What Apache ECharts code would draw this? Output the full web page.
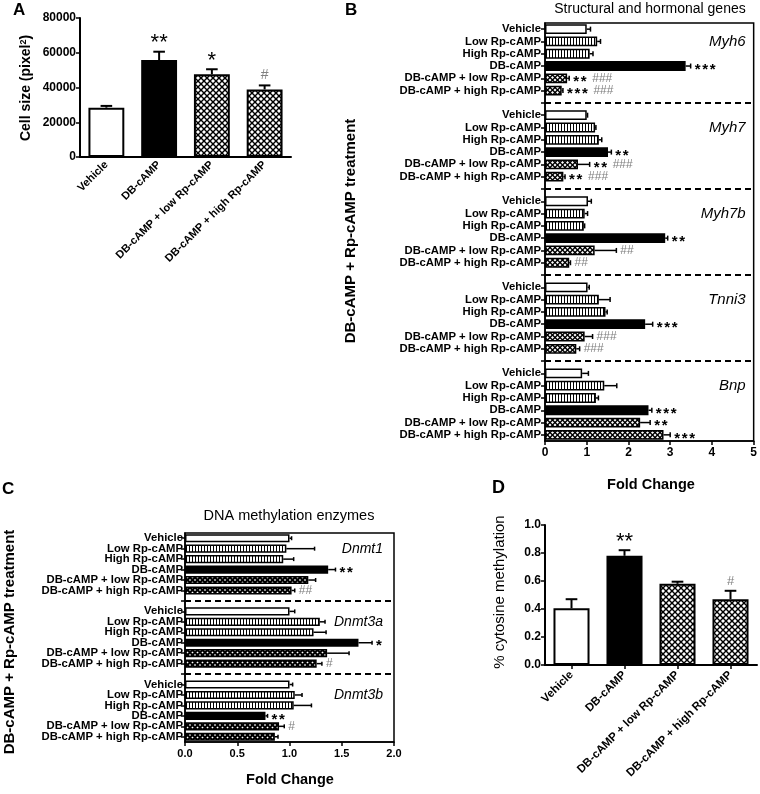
<!DOCTYPE html>
<html><head><meta charset="utf-8">
<script src="https://cdn.jsdelivr.net/npm/echarts@6/dist/echarts.min.js"></script>
<style>html,body{margin:0;padding:0;background:#fff}#c{width:760px;height:794px}</style>
</head><body><div id="c"></div>
<script>
// ---------- DATA ----------
// Panel A: cell size
const aCategories = ['Vehicle', 'DB-cAMP', 'DB-cAMP + low Rp-cAMP', 'DB-cAMP + high Rp-cAMP'];
const aValues = [28400, 55800, 47600, 38900];
const aErrTop = [29400, 60600, 50500, 41200];
const aStars = ['', '**', '*', ''];
const aHashes = ['', '', '', '#'];
const aTicks = [0, 20000, 40000, 60000, 80000];

// Panel B: structural and hormonal genes
const bTreatments = ['Vehicle', 'Low Rp-cAMP', 'High Rp-cAMP', 'DB-cAMP', 'DB-cAMP + low Rp-cAMP', 'DB-cAMP + high Rp-cAMP'];
const bGenes = ['Myh6', 'Myh7', 'Myh7b', 'Tnni3', 'Bnp'];
const bMyh6 = [1.00, 1.25, 1.07, 3.37, 0.53, 0.40];
const bMyh6Err = [1.09, 1.33, 1.15, 3.49, 0.58, 0.43];
const bMyh7 = [1.00, 1.20, 1.29, 1.51, 0.79, 0.44];
const bMyh7Err = [1.02, 1.22, 1.36, 1.59, 1.07, 0.48];
const bMyh7b = [1.03, 0.95, 0.93, 2.88, 1.19, 0.58];
const bMyh7bErr = [1.11, 1.02, 0.95, 2.94, 1.71, 0.61];
const bTnni3 = [1.02, 1.29, 1.45, 2.40, 0.95, 0.75];
const bTnni3Err = [1.06, 1.56, 1.49, 2.58, 1.14, 0.83];
const bBnp = [0.89, 1.42, 1.22, 2.48, 2.28, 2.84];
const bBnpErr = [1.04, 1.72, 1.28, 2.56, 2.52, 3.00];
const bStars = [
  ['', '', '', '***', '**', '***'],
  ['', '', '', '**', '**', '**'],
  ['', '', '', '**', '', ''],
  ['', '', '', '***', '', ''],
  ['', '', '', '***', '**', '***']
];
const bHashes = [
  ['', '', '', '', '###', '###'],
  ['', '', '', '', '###', '###'],
  ['', '', '', '', '##', '##'],
  ['', '', '', '', '###', '###'],
  ['', '', '', '', '', '']
];
const bTicks = [0, 1, 2, 3, 4, 5];

// Panel C: DNA methylation enzymes
const cGenes = ['Dnmt1', 'Dnmt3a', 'Dnmt3b'];
const cDnmt1 = [1.00, 0.97, 0.94, 1.37, 1.18, 1.02];
const cDnmt1Err = [1.02, 1.24, 1.04, 1.44, 1.25, 1.05];
const cDnmt3a = [1.00, 1.29, 1.23, 1.66, 1.36, 1.26];
const cDnmt3aErr = [1.05, 1.34, 1.35, 1.79, 1.57, 1.31];
const cDnmt3b = [1.00, 1.05, 1.04, 0.77, 0.90, 0.86];
const cDnmt3bErr = [1.03, 1.12, 1.21, 0.79, 0.95, 0.89];
const cStars = [
  ['', '', '', '**', '', ''],
  ['', '', '', '*', '', ''],
  ['', '', '', '**', '', '']
];
const cHashes = [
  ['', '', '', '', '', '##'],
  ['', '', '', '', '', '#'],
  ['', '', '', '', '#', '']
];
const cTicks = [0, 0.5, 1.0, 1.5, 2.0];

// Panel D: % cytosine methylation
const dCategories = ['Vehicle', 'DB-cAMP', 'DB-cAMP + low Rp-cAMP', 'DB-cAMP + high Rp-cAMP'];
const dValues = [0.405, 0.78, 0.58, 0.47];
const dErrTop = [0.47, 0.82, 0.595, 0.53];
const dStars = ['', '**', '', ''];
const dHashes = ['', '', '', '#'];
const dTicks = [0, 0.2, 0.4, 0.6, 0.8, 1.0];

// ---------- HELPERS ----------
const FONT = '"Liberation Sans", Arial, sans-serif';
const GRAY = '#808080';

function makePattern(size, draw) {
  const c = document.createElement('canvas');
  c.width = size; c.height = size;
  const ctx = c.getContext('2d');
  draw(ctx, size);
  return { image: c, repeat: 'repeat' };
}
const stripe = makePattern(3, (ctx, s) => {
  ctx.fillStyle = '#fff'; ctx.fillRect(0, 0, s, s);
  ctx.fillStyle = '#000'; ctx.fillRect(0, 0, 1, s);
});
function diamond(s, r) {
  return makePattern(s, (ctx) => {
    ctx.fillStyle = '#000'; ctx.fillRect(0, 0, s, s);
    ctx.fillStyle = '#fff';
    [[s / 2, s / 2], [0, 0], [s, 0], [0, s], [s, s]].forEach(([x, y]) => {
      ctx.beginPath(); ctx.moveTo(x, y - r); ctx.lineTo(x + r, y); ctx.lineTo(x, y + r); ctx.lineTo(x - r, y); ctx.closePath(); ctx.fill();
    });
  });
}
const checkAD = diamond(6, 2);
const checkB = diamond(5, 1.5);
const checkC = diamond(5, 1.1);
const fillAD = ['#fff', '#000', checkAD, checkAD];
const fillB = ['#fff', stripe, stripe, '#000', checkB, checkB];
const fillC = ['#fff', stripe, stripe, '#000', checkC, checkC];

function buildSlots(genes, vals, errs, stars, hashes) {
  const slots = [];
  genes.forEach((g, gi) => {
    if (gi > 0) slots.push({ gap: true, label: '' });
    bTreatments.forEach((t, ti) => {
      slots.push({ label: t, ti, gi, v: vals[gi][ti], e: errs[gi][ti], s: stars[gi][ti], h: hashes[gi][ti] });
    });
  });
  return slots;
}
const bSlots = buildSlots(bGenes, [bMyh6, bMyh7, bMyh7b, bTnni3, bBnp],
  [bMyh6Err, bMyh7Err, bMyh7bErr, bTnni3Err, bBnpErr], bStars, bHashes);
const cSlots = buildSlots(cGenes, [cDnmt1, cDnmt3a, cDnmt3b],
  [cDnmt1Err, cDnmt3aErr, cDnmt3bErr], cStars, cHashes);

// ---------- SERIES BUILDERS ----------
function hBarSeries(slots, idx, fills, bw) {
  return {
    type: 'bar', xAxisIndex: idx, yAxisIndex: idx, barWidth: bw, z: 2,
    data: slots.map(s => s.gap ? '-' : { value: s.v, itemStyle: { color: fills[s.ti], borderColor: '#000', borderWidth: 1.5 } }),
    silent: true
  };
}
function hErrSeries(slots, idx, capH, lw) {
  return {
    type: 'custom', xAxisIndex: idx, yAxisIndex: idx, z: 3, silent: true,
    encode: { x: 0, y: 1 },
    data: slots.map((s, i) => s.gap ? null : [s.e, i, s.v]).filter(Boolean),
    renderItem: (params, api) => {
      const i = api.value(1);
      const p0 = api.coord([api.value(2), i]);
      const p1 = api.coord([api.value(0), i]);
      return { type: 'group', children: [
        { type: 'line', shape: { x1: p0[0], y1: p0[1], x2: p1[0], y2: p1[1] }, style: { stroke: '#000', lineWidth: lw } },
        { type: 'line', shape: { x1: p1[0], y1: p1[1] - capH / 2, x2: p1[0], y2: p1[1] + capH / 2 }, style: { stroke: '#000', lineWidth: lw } }
      ] };
    }
  };
}
function hMarkSeries(slots, idx, starSize, pitch, hashSize) {
  return {
    type: 'custom', xAxisIndex: idx, yAxisIndex: idx, z: 4, silent: true,
    encode: { x: 0, y: 1 },
    data: slots.map((s, i) => (s.gap || (!s.s && !s.h)) ? null : [s.e, i]).filter(Boolean),
    renderItem: (params, api) => {
      const i = api.value(1);
      const slot = slots[i];
      const p = api.coord([api.value(0), i]);
      const children = [];
      let x = p[0] + 4;
      for (let k = 0; k < slot.s.length; k++) {
        children.push({ type: 'text', x: x, y: p[1] + starSize * 0.24, style: {
          text: slot.s[k], fill: '#000', font: 'bold ' + starSize + 'px ' + FONT, textAlign: 'left', textVerticalAlign: 'middle', align: 'left', verticalAlign: 'middle' } });
        x += pitch;
      }
      if (slot.s) x += 4;
      if (slot.h) {
        children.push({ type: 'text', x: x, y: p[1], style: {
          text: slot.h, fill: GRAY, font: hashSize + 'px ' + FONT, textAlign: 'left', textVerticalAlign: 'middle', align: 'left', verticalAlign: 'middle' } });
      }
      return { type: 'group', children };
    }
  };
}
function dashSeries(slots, idx) {
  return {
    type: 'custom', xAxisIndex: idx, yAxisIndex: idx, z: 1, silent: true,
    encode: { x: 0, y: 1 },
    data: slots.map((s, i) => s.gap ? [0, i] : null).filter(Boolean),
    renderItem: (params, api) => {
      const y = api.coord([0, api.value(1)])[1];
      const cs = params.coordSys;
      return { type: 'line', shape: { x1: cs.x, y1: y, x2: cs.x + cs.width, y2: y },
        style: { stroke: '#000', lineWidth: 2, lineDash: [6, 4] } };
    }
  };
}
function geneSeries(slots, genes, idx, size, inset) {
  return {
    type: 'custom', xAxisIndex: idx, yAxisIndex: idx, z: 4, silent: true,
    encode: { x: 0, y: 1 },
    data: slots.map((s, i) => (!s.gap && s.ti === 1) ? [0, i, s.gi] : null).filter(Boolean),
    renderItem: (params, api) => {
      const y = api.coord([0, api.value(1)])[1];
      const cs = params.coordSys;
      return { type: 'text', x: cs.x + cs.width - inset, y: y, style: {
        text: genes[api.value(2)], fill: '#000', font: 'italic ' + size + 'px ' + FONT,
        textAlign: 'right', textVerticalAlign: 'middle', align: 'right', verticalAlign: 'middle' } };
    }
  };
}
function vBarSeries(values, idx) {
  return {
    type: 'bar', xAxisIndex: idx, yAxisIndex: idx, barWidth: '68%', z: 2, silent: true,
    data: values.map((v, i) => ({ value: v, itemStyle: { color: fillAD[i], borderColor: '#000', borderWidth: 2 } }))
  };
}
function vErrSeries(values, errs, idx) {
  return {
    type: 'custom', xAxisIndex: idx, yAxisIndex: idx, z: 3, silent: true,
    encode: { x: 0, y: 1 },
    data: values.map((v, i) => [i, errs[i], v]),
    renderItem: (params, api) => {
      const i = api.value(0);
      const p0 = api.coord([i, api.value(2)]);
      const p1 = api.coord([i, api.value(1)]);
      const w = api.size([1, 0])[0] * 0.22;
      return { type: 'group', children: [
        { type: 'line', shape: { x1: p0[0], y1: p0[1], x2: p1[0], y2: p1[1] }, style: { stroke: '#000', lineWidth: 2 } },
        { type: 'line', shape: { x1: p1[0] - w / 2, y1: p1[1], x2: p1[0] + w / 2, y2: p1[1] }, style: { stroke: '#000', lineWidth: 2 } }
      ] };
    }
  };
}
function vMarkSeries(errs, stars, hashes, idx, starSize, hashSize) {
  return {
    type: 'custom', xAxisIndex: idx, yAxisIndex: idx, z: 4, silent: true,
    encode: { x: 0, y: 1 },
    data: errs.map((e, i) => (stars[i] || hashes[i]) ? [i, e] : null).filter(Boolean),
    renderItem: (params, api) => {
      const i = api.value(0);
      const p = api.coord([i, api.value(1)]);
      if (stars[i]) {
        return { type: 'text', x: p[0], y: p[1] + starSize * 0.12, style: {
          text: stars[i], fill: '#000', font: starSize + 'px ' + FONT,
          textAlign: 'center', textVerticalAlign: 'bottom', align: 'center', verticalAlign: 'bottom' } };
      }
      return { type: 'text', x: p[0], y: p[1] - 3, style: {
        text: hashes[i], fill: GRAY, font: hashSize + 'px ' + FONT,
        textAlign: 'center', textVerticalAlign: 'bottom', align: 'center', verticalAlign: 'bottom' } };
    }
  };
}

// ---------- AXES ----------
const axisLineBlack = (w) => ({ show: true, lineStyle: { color: '#000', width: w } });
const tickBlack = (len, w, align) => ({ show: true, length: len, alignWithLabel: !!align, interval: 0, lineStyle: { color: '#000', width: w } });
const labelBold = (size, extra) => Object.assign({ color: '#000', fontSize: size, fontWeight: 'bold', fontFamily: FONT }, extra || {});

const option = {
  animation: false,
  backgroundColor: '#fff',
  grid: [
    { left: 80, top: 18, width: 211, height: 139 },
    { left: 545, top: 23, width: 210, height: 418, show: true, borderColor: '#000', borderWidth: 1.5, backgroundColor: 'transparent' },
    { left: 185, top: 533, width: 209, height: 209, show: true, borderColor: '#000', borderWidth: 1.5, backgroundColor: 'transparent' },
    { left: 545, top: 525, width: 212, height: 140 }
  ],
  xAxis: [
    { gridIndex: 0, type: 'category', data: aCategories, axisLine: axisLineBlack(2), axisTick: { show: false },
      axisLabel: labelBold(11, { rotate: 45, interval: 0, margin: 6 }) },
    { gridIndex: 1, type: 'value', min: bTicks[0], max: bTicks[bTicks.length - 1], interval: 1, splitLine: { show: false },
      axisLine: axisLineBlack(1.5), axisTick: tickBlack(4, 1.5), axisLabel: labelBold(12, { margin: 6 }) },
    { gridIndex: 2, type: 'value', min: cTicks[0], max: cTicks[cTicks.length - 1], interval: 0.5, splitLine: { show: false },
      axisLine: axisLineBlack(1.5), axisTick: tickBlack(4, 1.5), axisLabel: labelBold(11, { margin: 6, formatter: v => v.toFixed(1) }) },
    { gridIndex: 3, type: 'category', data: dCategories, axisLine: axisLineBlack(2), axisTick: tickBlack(4, 1.5, true),
      axisLabel: labelBold(11.5, { rotate: 45, interval: 0, margin: 8 }) }
  ],
  yAxis: [
    { gridIndex: 0, type: 'value', min: aTicks[0], max: aTicks[aTicks.length - 1], interval: 20000, splitLine: { show: false },
      axisLine: axisLineBlack(2), axisTick: tickBlack(4, 1.5), axisLabel: labelBold(12, { margin: 4, formatter: v => String(v) }) },
    { gridIndex: 1, type: 'category', inverse: true, data: bSlots.map((s, i) => String(i)),
      axisLine: axisLineBlack(1.5), axisTick: tickBlack(4, 1.5, true),
      axisLabel: labelBold(11.3, { interval: 0, margin: 4, formatter: (v) => bSlots[Number(v)].label }) },
    { gridIndex: 2, type: 'category', inverse: true, data: cSlots.map((s, i) => String(i)),
      axisLine: axisLineBlack(1.5), axisTick: tickBlack(4, 1.5, true),
      axisLabel: labelBold(11.3, { interval: 0, margin: 2, formatter: (v) => cSlots[Number(v)].label }) },
    { gridIndex: 3, type: 'value', min: dTicks[0], max: dTicks[dTicks.length - 1], interval: 0.2, splitLine: { show: false },
      axisLine: axisLineBlack(2), axisTick: tickBlack(4, 1.5), axisLabel: labelBold(12, { margin: 4, formatter: v => v.toFixed(1) }) }
  ],
  series: [
    vBarSeries(aValues, 0), vErrSeries(aValues, aErrTop, 0), vMarkSeries(aErrTop, aStars, aHashes, 0, 22, 14),
    dashSeries(bSlots, 1), hBarSeries(bSlots, 1, fillB, '80%'), hErrSeries(bSlots, 1, 5, 1.5),
    hMarkSeries(bSlots, 1, 15, 7.5, 12), geneSeries(bSlots, bGenes, 1, 15, 8),
    dashSeries(cSlots, 2), hBarSeries(cSlots, 2, fillC, '78%'), hErrSeries(cSlots, 2, 4, 1.5),
    hMarkSeries(cSlots, 2, 15, 7.5, 12), geneSeries(cSlots, cGenes, 2, 14, 11),
    vBarSeries(dValues, 3), vErrSeries(dValues, dErrTop, 3), vMarkSeries(dErrTop, dStars, dHashes, 3, 22, 13)
  ],
  graphic: [
    { type: 'text', left: 13, top: 2, style: { text: 'A', font: 'bold 17px ' + FONT, fill: '#000' } },
    { type: 'text', left: 345, top: 2, style: { text: 'B', font: 'bold 17px ' + FONT, fill: '#000' } },
    { type: 'text', left: 2, top: 481, style: { text: 'C', font: 'bold 17px ' + FONT, fill: '#000' } },
    { type: 'text', left: 492, top: 479, style: { text: 'D', font: 'bold 18px ' + FONT, fill: '#000' } },
    { type: 'text', x: 650, y: 9, style: { text: 'Structural and hormonal genes', font: '14px ' + FONT, fill: '#000',
      textAlign: 'center', textVerticalAlign: 'middle', align: 'center', verticalAlign: 'middle' } },
    { type: 'text', x: 289, y: 516, style: { text: 'DNA methylation enzymes', font: '14.5px ' + FONT, fill: '#000',
      textAlign: 'center', textVerticalAlign: 'middle', align: 'center', verticalAlign: 'middle' } },
    { type: 'text', x: 651, y: 485, style: { text: 'Fold Change', font: 'bold 14.5px ' + FONT, fill: '#000',
      textAlign: 'center', textVerticalAlign: 'middle', align: 'center', verticalAlign: 'middle' } },
    { type: 'text', x: 290, y: 780, style: { text: 'Fold Change', font: 'bold 14.5px ' + FONT, fill: '#000',
      textAlign: 'center', textVerticalAlign: 'middle', align: 'center', verticalAlign: 'middle' } },
    { type: 'text', x: 26, y: 88, rotation: Math.PI / 2, style: {
      text: 'Cell size (pixel{sup|2})', font: 'bold 14px ' + FONT, fill: '#000',
      rich: { sup: { fontSize: 9, fontWeight: 'bold', fontFamily: FONT, verticalAlign: 'top', fill: '#000' } },
      textAlign: 'center', textVerticalAlign: 'middle', align: 'center', verticalAlign: 'middle' } },
    { type: 'text', x: 351, y: 231, rotation: Math.PI / 2, style: { text: 'DB-cAMP + Rp-cAMP treatment', font: 'bold 15px ' + FONT, fill: '#000',
      textAlign: 'center', textVerticalAlign: 'middle', align: 'center', verticalAlign: 'middle' } },
    { type: 'text', x: 10, y: 642, rotation: Math.PI / 2, style: { text: 'DB-cAMP + Rp-cAMP treatment', font: 'bold 15px ' + FONT, fill: '#000',
      textAlign: 'center', textVerticalAlign: 'middle', align: 'center', verticalAlign: 'middle' } },
    { type: 'text', x: 500, y: 592, rotation: Math.PI / 2, style: { text: '% cytosine methylation', font: '15px ' + FONT, fill: '#000',
      textAlign: 'center', textVerticalAlign: 'middle', align: 'center', verticalAlign: 'middle' } }
  ]
};
const chart = echarts.init(document.getElementById('c'), null, { renderer: 'canvas', width: 760, height: 794 });
chart.setOption(option);
</script>
</body></html>
